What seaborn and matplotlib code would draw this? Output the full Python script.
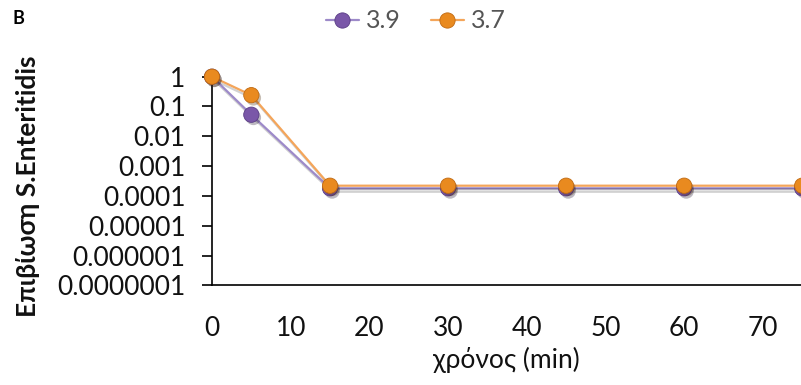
import numpy as np
import pandas as pd
import matplotlib
matplotlib.use("Agg")
import matplotlib.pyplot as plt
import matplotlib.patheffects as pe
import seaborn as sns

# Survival of S. Enteritidis over time at two pH values
time_min = [0, 5, 15, 30, 45, 60, 75]
surv_39 = [1.0, 0.053, 1.8e-4, 1.8e-4, 1.8e-4, 1.8e-4, 1.8e-4]
surv_37 = [1.0, 0.24, 2.2e-4, 2.2e-4, 2.2e-4, 2.2e-4, 2.2e-4]
series_names = ["3.9", "3.7"]
y_ticks = [1, 0.1, 0.01, 0.001, 0.0001, 0.00001, 0.000001, 0.0000001]
y_tick_labels = ["1", "0.1", "0.01", "0.001", "0.0001", "0.00001", "0.000001", "0.0000001"]
x_ticks = [0, 10, 20, 30, 40, 50, 60, 70]

df = pd.DataFrame({
    "time": time_min * 2,
    "survival": surv_39 + surv_37,
    "series": [series_names[0]] * len(time_min) + [series_names[1]] * len(time_min),
})

sns.set_theme(style="white")
plt.rcParams["font.family"] = ["Lato", "DejaVu Sans"]

line_colors = {"3.9": "#9d8ac9", "3.7": "#f4a55a"}
dot_colors = {"3.9": "#7a57a8", "3.7": "#e98a1f"}
edge_colors = {"3.9": "#5a3d85", "3.7": "#c06a12"}

fig = plt.figure(figsize=(8.01, 3.85), dpi=100)
ax = fig.add_axes([212 / 801, 1 - 285.3 / 385, 1 - 212 / 801, (285.3 - 76.7) / 385])

shadow = [pe.SimpleLineShadow(offset=(1.5, -2.5), shadow_color="#000000", alpha=0.18), pe.Normal()]

sns.lineplot(data=df, x="time", y="survival", hue="series", palette=line_colors,
             hue_order=series_names, estimator=None, sort=False, linewidth=1.6,
             ax=ax, legend=False, clip_on=False, path_effects=shadow)

for name in series_names:
    sub = df[df["series"] == name]
    ax.plot(sub["time"], sub["survival"], linestyle="none", marker="o", markersize=11,
            markerfacecolor=dot_colors[name], markeredgecolor=edge_colors[name],
            markeredgewidth=0.6, clip_on=False, zorder=5,
            path_effects=[pe.SimplePatchShadow(offset=(1.5, -2), alpha=0.3), pe.Normal()])

ax.set_yscale("log")
ax.set_ylim(1e-7, 1)
ax.set_xlim(0, 74.85)
ax.set_yticks(y_ticks)
ax.set_yticklabels(y_tick_labels)
ax.yaxis.set_minor_locator(matplotlib.ticker.NullLocator())
ax.set_xticks(x_ticks)
ax.set_xticklabels([str(v) for v in x_ticks])

for side in ["top", "right"]:
    ax.spines[side].set_visible(False)
for side in ["left", "bottom"]:
    ax.spines[side].set_color("#000000")
    ax.spines[side].set_linewidth(1.2)

ax.tick_params(axis="y", which="major", left=True, length=7, width=1.2, color="#000000",
               pad=12, labelsize=19, labelcolor="#111111")
ax.tick_params(axis="x", which="major", bottom=False, length=0, pad=22,
               labelsize=19, labelcolor="#111111")

ax.set_xlabel("χρόνος (min)", fontsize=19, color="#111111", labelpad=4)
ax.set_ylabel("Επιβίωση S.Enteritidis", fontsize=19, fontweight="bold", color="#111111")
ax.yaxis.set_label_coords(-(212 - 40) / 589, 0.5 - (186 - 181) / 208.6)

handles = []
for name in series_names:
    h, = ax.plot([], [], color=line_colors[name], linewidth=1.6, marker="o", markersize=11,
                 markerfacecolor=dot_colors[name], markeredgecolor=edge_colors[name],
                 markeredgewidth=0.6, label=name)
    handles.append(h)
fig.legend(handles=handles, labels=series_names, loc="center", ncol=2,
           bbox_to_anchor=(416 / 801, 1 - 21 / 385), frameon=False, fontsize=18,
           handlelength=1.3, handletextpad=0.3, columnspacing=1.2, labelcolor="#555555")

fig.text(12 / 801, 1 - 19 / 385, "B", fontsize=13, fontweight="bold", color="#000000",
         ha="left", va="center")

fig.savefig("out.png", dpi=100)
